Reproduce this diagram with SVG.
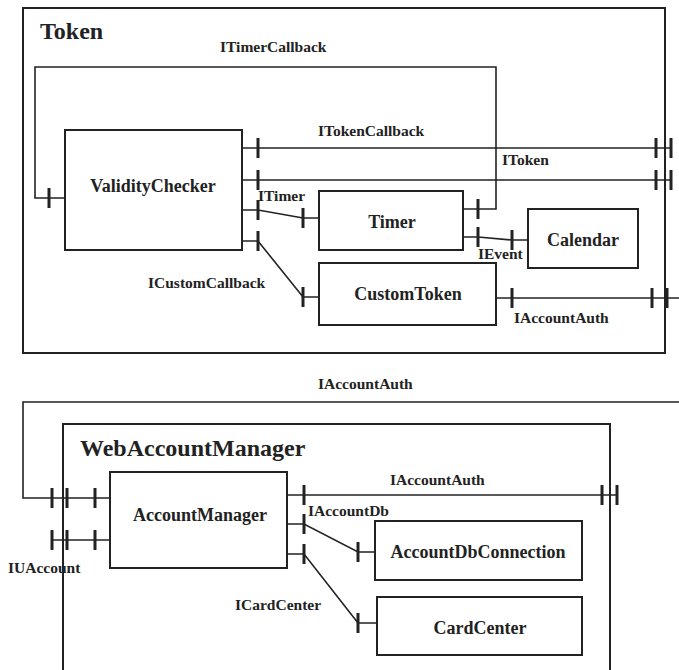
<svg xmlns="http://www.w3.org/2000/svg" width="679" height="670" viewBox="0 0 679 670">
  <style>
    .frame { fill: none; stroke: #222; stroke-width: 2; }
    .box { fill: #fff; stroke: #222; stroke-width: 2; }
    .wire { fill: none; stroke: #222; stroke-width: 1.6; }
    .tick { stroke: #222; stroke-width: 3; }
    .title { font-family: "Liberation Serif", "Times New Roman", serif; font-weight: bold; font-size: 24px; fill: #222; }
    .name { font-family: "Liberation Serif", "Times New Roman", serif; font-weight: bold; font-size: 18px; fill: #222; text-anchor: middle; }
    .iface { font-family: "Liberation Serif", "Times New Roman", serif; font-weight: bold; font-size: 15.5px; fill: #222; }
  </style>
  <rect width="679" height="670" fill="#fff"/>

  <!-- Component containers -->
  <g id="Token">
    <rect class="frame" x="23" y="8" width="642" height="345"/>
    <text class="title" x="40" y="39">Token</text>
  </g>
  <g id="WebAccountManager">
    <path class="frame" d="M63,672 V424 H610 V672"/>
    <text class="title" x="80" y="456">WebAccountManager</text>
  </g>

  <!-- Interface connectors -->
  <g id="connectors">
    <polyline class="wire" points="463,209 496,209 496,67 35,67 35,198 65,198"/>
    <line class="tick" x1="478" y1="199" x2="478" y2="219"/>
    <line class="tick" x1="49" y1="188" x2="49" y2="208"/>
    <text class="iface" x="220" y="52">ITimerCallback</text>

    <line class="wire" x1="242" y1="148" x2="672" y2="148"/>
    <line class="tick" x1="258" y1="138" x2="258" y2="158"/>
    <line class="tick" x1="656" y1="138" x2="656" y2="158"/>
    <line class="tick" x1="671" y1="138" x2="671" y2="158"/>
    <text class="iface" x="318" y="136">ITokenCallback</text>

    <line class="wire" x1="242" y1="180" x2="672" y2="180"/>
    <line class="tick" x1="258" y1="170" x2="258" y2="190"/>
    <line class="tick" x1="656" y1="170" x2="656" y2="190"/>
    <line class="tick" x1="671" y1="170" x2="671" y2="190"/>
    <text class="iface" x="502" y="165">IToken</text>

    <polyline class="wire" points="242,210 258,210 303,218 319,218"/>
    <line class="tick" x1="258" y1="200" x2="258" y2="220"/>
    <line class="tick" x1="303" y1="208" x2="303" y2="228"/>
    <text class="iface" x="258" y="201">ITimer</text>

    <polyline class="wire" points="242,241 258,241 303,297 319,297"/>
    <line class="tick" x1="258" y1="231" x2="258" y2="251"/>
    <line class="tick" x1="303" y1="287" x2="303" y2="307"/>
    <text class="iface" x="148" y="288">ICustomCallback</text>

    <polyline class="wire" points="463,237 478,237 512,240 528,240"/>
    <line class="tick" x1="478" y1="227" x2="478" y2="247"/>
    <line class="tick" x1="512" y1="230" x2="512" y2="250"/>
    <text class="iface" x="478" y="259">IEvent</text>

    <line class="wire" x1="496" y1="298" x2="679" y2="298"/>
    <line class="tick" x1="512" y1="288" x2="512" y2="308"/>
    <line class="tick" x1="652" y1="288" x2="652" y2="308"/>
    <line class="tick" x1="667" y1="288" x2="667" y2="308"/>
    <text class="iface" x="514" y="323">IAccountAuth</text>

    <polyline class="wire" points="679,402 23,402 23,498 110,498"/>
    <line class="tick" x1="52" y1="488" x2="52" y2="508"/>
    <line class="tick" x1="67" y1="488" x2="67" y2="508"/>
    <line class="tick" x1="95" y1="488" x2="95" y2="508"/>
    <text class="iface" x="318" y="389">IAccountAuth</text>

    <line class="wire" x1="52" y1="540" x2="110" y2="540"/>
    <line class="tick" x1="52" y1="530" x2="52" y2="550"/>
    <line class="tick" x1="67" y1="530" x2="67" y2="550"/>
    <line class="tick" x1="95" y1="530" x2="95" y2="550"/>
    <text class="iface" x="8" y="573">IUAccount</text>

    <line class="wire" x1="287" y1="495" x2="618" y2="495"/>
    <line class="tick" x1="304" y1="485" x2="304" y2="505"/>
    <line class="tick" x1="602" y1="485" x2="602" y2="505"/>
    <line class="tick" x1="617" y1="485" x2="617" y2="505"/>
    <text class="iface" x="390" y="485">IAccountAuth</text>

    <polyline class="wire" points="287,524 304,524 358,552 375,552"/>
    <line class="tick" x1="304" y1="514" x2="304" y2="534"/>
    <line class="tick" x1="358" y1="542" x2="358" y2="562"/>
    <text class="iface" x="308" y="516">IAccountDb</text>

    <polyline class="wire" points="287,554 304,554 358,623 377,623"/>
    <line class="tick" x1="304" y1="544" x2="304" y2="564"/>
    <line class="tick" x1="358" y1="613" x2="358" y2="633"/>
    <text class="iface" x="235" y="610">ICardCenter</text>
  </g>

  <!-- Components -->
  <g id="ValidityChecker">
    <rect class="box" x="65" y="130" width="177" height="120"/>
    <text class="name" x="153" y="192">ValidityChecker</text>
  </g>
  <g id="Timer">
    <rect class="box" x="319" y="191" width="144" height="59"/>
    <text class="name" x="392" y="228">Timer</text>
  </g>
  <g id="Calendar">
    <rect class="box" x="528" y="209" width="110" height="59"/>
    <text class="name" x="583" y="246">Calendar</text>
  </g>
  <g id="CustomToken">
    <rect class="box" x="319" y="263" width="177" height="62"/>
    <text class="name" x="408" y="300">CustomToken</text>
  </g>
  <g id="AccountManager">
    <rect class="box" x="110" y="472" width="177" height="96"/>
    <text class="name" x="200" y="521">AccountManager</text>
  </g>
  <g id="AccountDbConnection">
    <rect class="box" x="375" y="521" width="207" height="59"/>
    <text class="name" x="478" y="558">AccountDbConnection</text>
  </g>
  <g id="CardCenter">
    <rect class="box" x="377" y="597" width="205" height="58"/>
    <text class="name" x="480" y="634">CardCenter</text>
  </g>
</svg>
